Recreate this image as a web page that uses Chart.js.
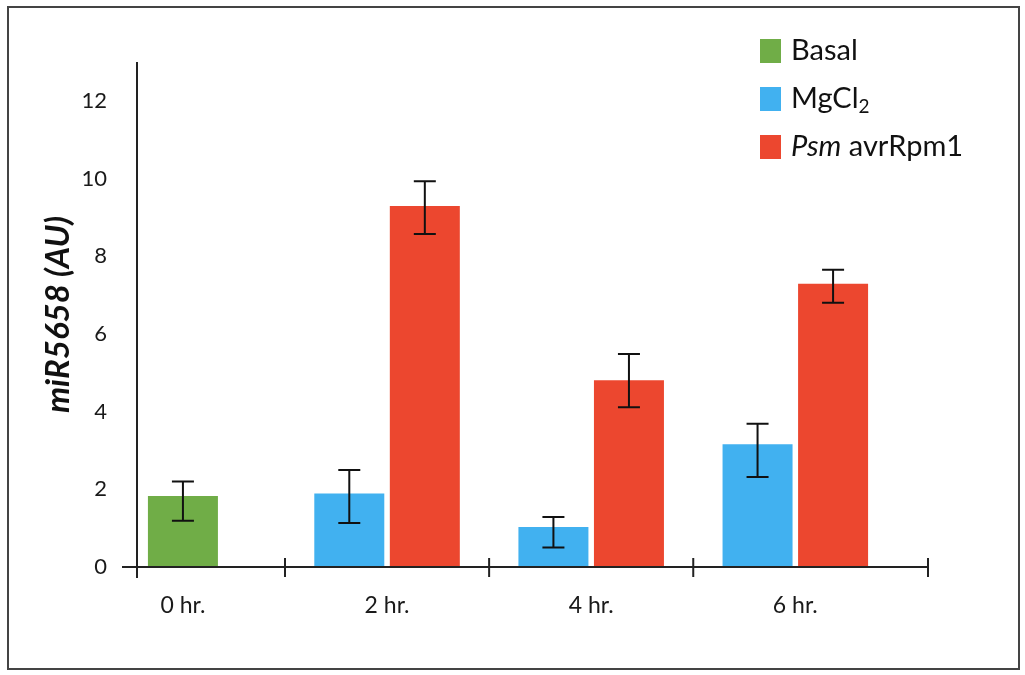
<!DOCTYPE html>
<html lang="en">
<head>
<meta charset="UTF-8">
<title>miR5658 after Psm avrRpm1 infection</title>
<script src="https://cdn.jsdelivr.net/npm/chart.js@4.4.1/dist/chart.umd.min.js"></script>
<style>
  html, body { margin: 0; padding: 0; background: #fff; }
</style>
</head>
<body>
<canvas id="chart" width="1025" height="675"></canvas>
<script>
// time points (hours) and their labels
var hours = [0, 2, 4, 6];
var hourLabels = ['0 hr.', '2 hr.', '4 hr.', '6 hr.'];
var yTicks = [0, 2, 4, 6, 8, 10, 12];

// bar heights (null = no bar at that time)
var basal = [1.83, null, null, null];
var mgcl2 = [null, 1.89, 1.03, 3.16];
var psm = [null, 9.29, 4.81, 7.29];

// error bar ends (upper / lower)
var basalHi = [2.2, null, null, null];
var basalLo = [1.19, null, null, null];
var mgcl2Hi = [null, 2.5, 1.29, 3.69];
var mgcl2Lo = [null, 1.13, 0.5, 2.32];
var psmHi = [null, 9.93, 5.48, 7.65];
var psmLo = [null, 8.57, 4.11, 6.8];

Chart.defaults.font.family = 'Lato';
Chart.defaults.color = '#1a1a1a';

// error bars, axes, legend and frame
var extras = {
    id: 'extras',
    afterDatasetsDraw: function (chart) {
        var ctx = chart.ctx;
        var y = chart.scales.y;
        ctx.save();
        ctx.strokeStyle = '#111';
        ctx.lineWidth = 2;
        chart.data.datasets.forEach(function (ds, i) {
            var meta = chart.getDatasetMeta(i);
            meta.data.forEach(function (bar, j) {
                if (ds.data[j] == null) return;
                var top = y.getPixelForValue(ds.errHi[j]);
                var bot = y.getPixelForValue(ds.errLo[j]);
                ctx.beginPath();
                ctx.moveTo(bar.x, top); ctx.lineTo(bar.x, bot);
                ctx.moveTo(bar.x - 11, top); ctx.lineTo(bar.x + 11, top);
                ctx.moveTo(bar.x - 11, bot); ctx.lineTo(bar.x + 11, bot);
                ctx.stroke();
            });
        });
        ctx.restore();
    },
    afterDraw: function (chart) {
        var ctx = chart.ctx;
        var area = chart.chartArea;
        var x = chart.scales.x;
        ctx.save();

        // axes
        ctx.strokeStyle = '#222';
        ctx.lineWidth = 2;
        ctx.beginPath();
        ctx.moveTo(area.left, area.top);
        ctx.lineTo(area.left, area.bottom + 11);
        ctx.moveTo(area.left - 15, area.bottom);
        ctx.lineTo(area.right, area.bottom);
        // x tick marks between time points
        var marks = [area.left];
        for (var i = 0; i < hours.length - 1; i++) {
            marks.push((x.getPixelForValue(hours[i]) + x.getPixelForValue(hours[i + 1])) / 2);
        }
        marks.push(area.right);
        marks.forEach(function (m) {
            ctx.moveTo(m, area.bottom - 9);
            ctx.lineTo(m, area.bottom + 10);
        });
        ctx.stroke();

        // legend
        var lx = 760, ly = 51;
        chart.data.datasets.forEach(function (ds) {
            ctx.fillStyle = ds.backgroundColor;
            ctx.fillRect(lx, ly - 12, 21, 24);
            var tx = lx + 31;
            ctx.fillStyle = '#111';
            ctx.textBaseline = 'middle';
            ds.legendParts.forEach(function (p) {
                var size = p.sub ? 19 : 29;
                ctx.font = (p.italic ? 'italic ' : '') + size + 'px Lato';
                ctx.fillText(p.text, tx, ly + (p.sub ? 8 : 0));
                tx += ctx.measureText(p.text).width;
            });
            ly += 48;
        });

        // frame
        ctx.strokeStyle = '#444';
        ctx.lineWidth = 2;
        ctx.strokeRect(8, 7, 1011, 662);
        ctx.restore();
    }
};

new Chart(document.getElementById('chart'), {
    type: 'bar',
    data: {
        labels: hours,
        datasets: [{
            label: 'Basal',
            legendParts: [{ text: 'Basal' }],
            data: basal, errHi: basalHi, errLo: basalLo,
            backgroundColor: '#70AD47'
        }, {
            label: 'MgCl2',
            legendParts: [{ text: 'MgCl' }, { text: '2', sub: true }],
            data: mgcl2, errHi: mgcl2Hi, errLo: mgcl2Lo,
            backgroundColor: '#41B1F0'
        }, {
            label: 'Psm avrRpm1',
            legendParts: [{ text: 'Psm', italic: true }, { text: ' avrRpm1' }],
            data: psm, errHi: psmHi, errLo: psmLo,
            backgroundColor: '#EC472F'
        }]
    },
    options: {
        responsive: false,
        animation: false,
        devicePixelRatio: 1,
        skipNull: true,
        categoryPercentage: 0.74,
        barPercentage: 0.93,
        maxBarThickness: 70,
        layout: { padding: { left: 0, right: 97, top: 62, bottom: 0 } },
        plugins: {
            legend: { display: false },
            tooltip: { enabled: false }
        },
        scales: {
            x: {
                type: 'linear',
                offset: false,
                min: -0.45,
                max: 7.3,
                grid: { display: false, drawTicks: false },
                border: { display: false },
                afterBuildTicks: function (s) {
                    s.ticks = hours.map(function (h) { return { value: h }; });
                },
                afterFit: function (s) { s.height = 108; },
                ticks: {
                    padding: 25,
                    font: { size: 23 },
                    maxRotation: 0,
                    callback: function (v) { return hourLabels[hours.indexOf(v)]; }
                }
            },
            y: {
                min: 0,
                max: 13,
                grid: { display: false, drawTicks: false },
                border: { display: false },
                afterBuildTicks: function (s) {
                    s.ticks = yTicks.map(function (v) { return { value: v }; });
                },
                afterFit: function (s) { s.width = 137; },
                ticks: { padding: 30, font: { size: 22 } },
                title: {
                    display: true,
                    text: 'miR5658 (AU)',
                    color: '#111',
                    padding: { top: 39, bottom: 0 },
                    font: { size: 33, weight: 'bold', style: 'italic' }
                }
            }
        }
    },
    plugins: [extras]
});
</script>
</body>
</html>
